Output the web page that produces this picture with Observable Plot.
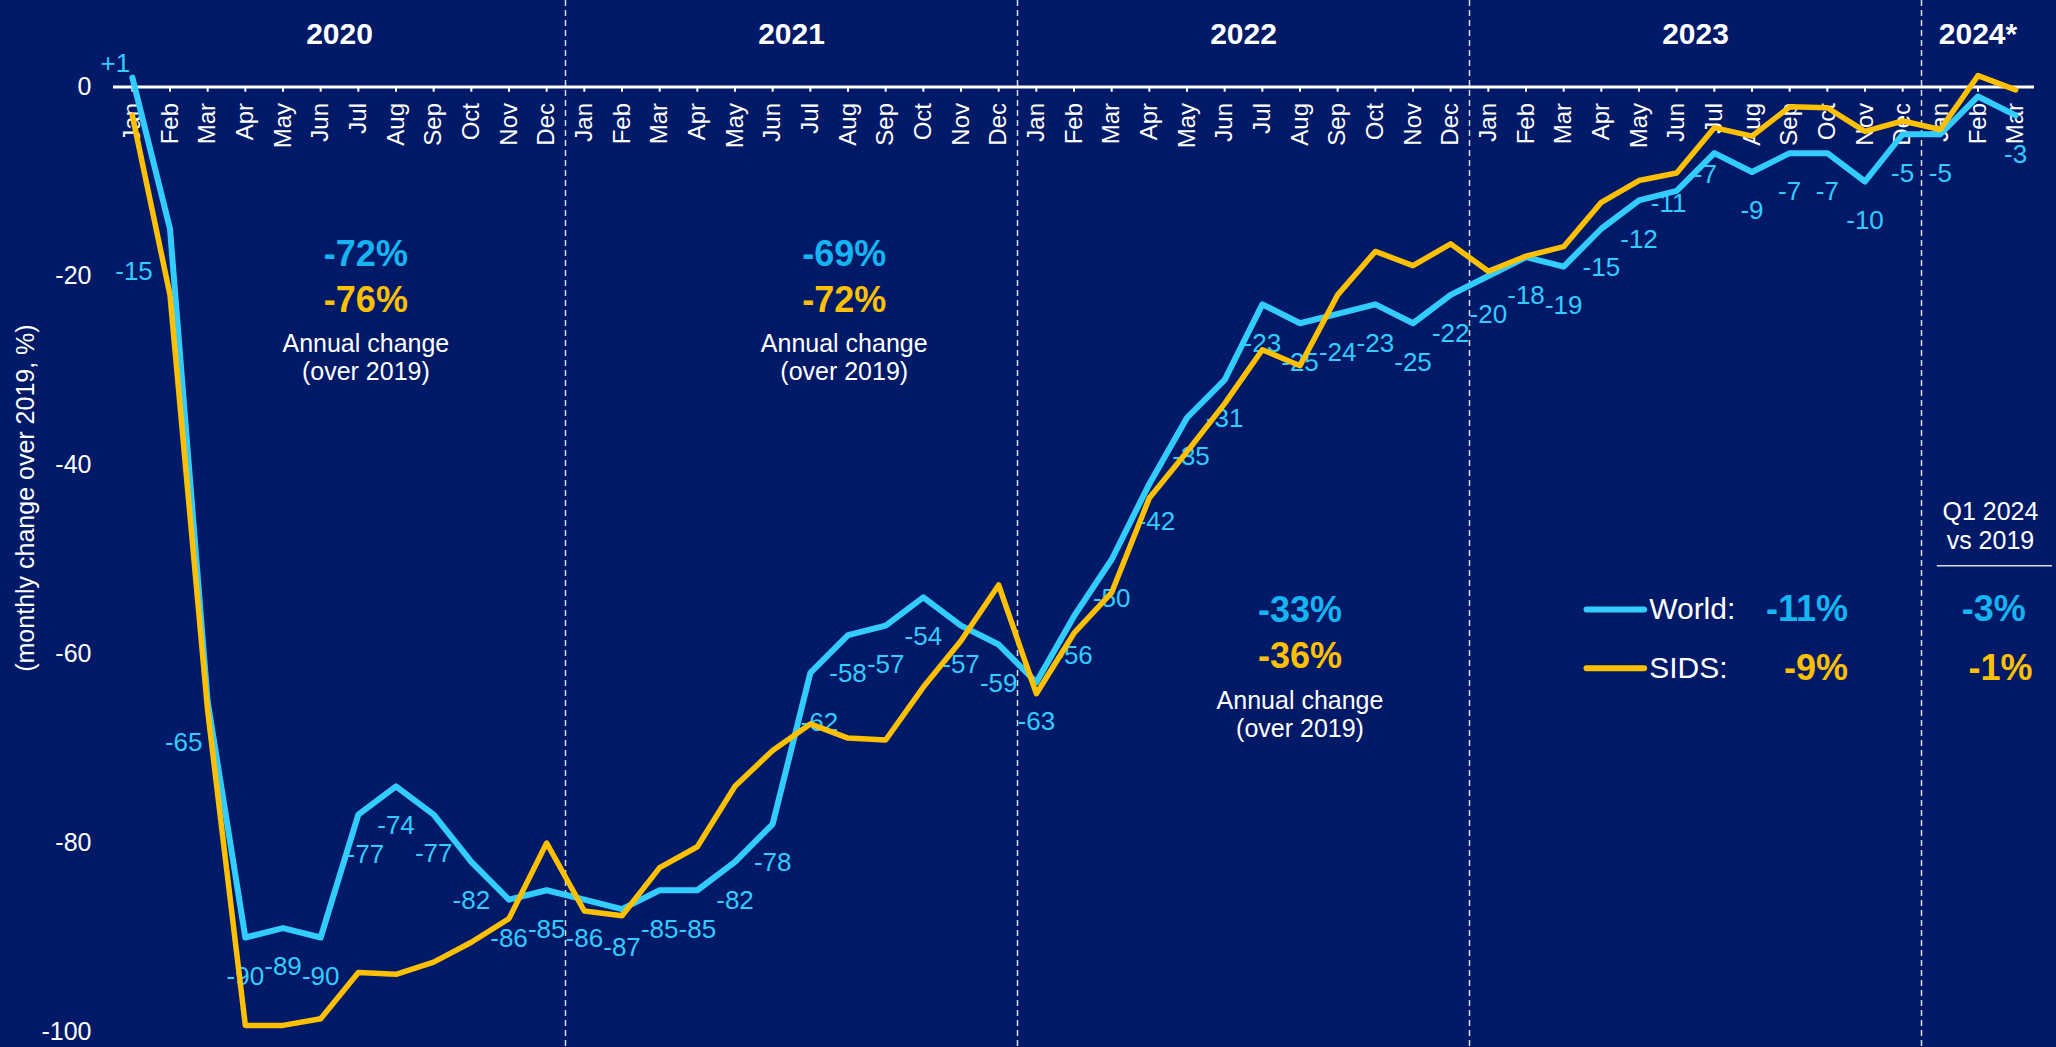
<!DOCTYPE html>
<html>
<head>
<meta charset="utf-8">
<script src="https://cdn.jsdelivr.net/npm/d3@7"></script>
<script src="https://cdn.jsdelivr.net/npm/@observablehq/plot@0.6"></script>
<style>
  html, body { margin: 0; padding: 0; background: #001a68; overflow: hidden; }
  #chart svg { display: block; }
</style>
</head>
<body>
<div id="chart"></div>
<script>
// ---------- DATA ----------
const months = [
  "Jan","Feb","Mar","Apr","May","Jun","Jul","Aug","Sep","Oct","Nov","Dec",
  "Jan","Feb","Mar","Apr","May","Jun","Jul","Aug","Sep","Oct","Nov","Dec",
  "Jan","Feb","Mar","Apr","May","Jun","Jul","Aug","Sep","Oct","Nov","Dec",
  "Jan","Feb","Mar","Apr","May","Jun","Jul","Aug","Sep","Oct","Nov","Dec",
  "Jan","Feb","Mar"
];
const years = ["2020", "2021", "2022", "2023", "2024*"];
const monthsPerYear = [12, 12, 12, 12, 3];

const world = [
  1, -15, -65, -90, -89, -90, -77, -74, -77, -82, -86, -85,
  -86, -87, -85, -85, -82, -78, -62, -58, -57, -54, -57, -59,
  -63, -56, -50, -42, -35, -31, -23, -25, -24, -23, -25, -22,
  -20, -18, -19, -15, -12, -11, -7, -9, -7, -7, -10, -5,
  -5, -1, -3
];
const worldLabels = [
  "+1","-15","-65","-90","-89","-90","-77","-74","-77","-82","-86","-85",
  "-86","-87","-85","-85","-82","-78","-62","-58","-57","-54","-57","-59",
  "-63","-56","-50","-42","-35","-31","-23","-25","-24","-23","-25","-22",
  "-20","-18","-19","-15","-12","-11","-7","-9","-7","-7","-10","-5",
  "-5", null, "-3"
];
const sids = [
  -3, -22, -66, -99.3, -99.3, -98.6, -93.7, -93.9, -92.6, -90.5, -88, -80,
  -87.2, -87.7, -82.6, -80.4, -74, -70.2, -67.4, -68.9, -69.1, -63.5, -58.6, -52.7,
  -64.2, -57.8, -53.5, -43.5, -38.6, -33.5, -27.8, -29.5, -22, -17.4, -18.9, -16.6,
  -19.5, -17.9, -16.9, -12.2, -9.9, -9.1, -4.3, -5.2, -2.1, -2.2, -4.7, -3.6,
  -4.5, 1.2, -0.3
];
const yTicks = [0, -20, -40, -60, -80, -100];
const yTitle = "(monthly change over 2019, %)";

// annual-change annotations (2020, 2021, 2022)
const annualWorld = ["-72%", "-69%", "-33%"];
const annualSids  = ["-76%", "-72%", "-36%"];
const annualCaption1 = "Annual change";
const annualCaption2 = "(over 2019)";

// legend
const seriesNames = ["World:", "SIDS:"];
const summary2023 = ["-11%", "-9%"];
const summaryQ1 = ["-3%", "-1%"];
const q1Header = ["Q1 2024", "vs 2019"];

// ---------- STYLE / LAYOUT ----------
const BG = "#001a68";
const BLUE = "#33ccff";
const PCT_BLUE = "#16b4f2";
const GOLD = "#ffc000";
const FONT = "'Liberation Sans', Arial, Helvetica, sans-serif";

const W = 2056, H = 1047;

const idx = d3.range(months.length);
const worldData = idx.map(i => ({i, v: world[i], label: worldLabels[i]}));
const sidsData = idx.map(i => ({i, v: sids[i]}));

// year spans
let start = 0;
const yearSpans = years.map((y, k) => {
  const s = start, e = start + monthsPerYear[k] - 1;
  start += monthsPerYear[k];
  return {year: y, s, e, mid: (s + e) / 2};
});
const dividers = yearSpans.slice(0, -1).map(d => d.e + 0.5);

// annotation anchors (month index, value)
const annotAnchors = [[6.2, -17.7], [18.9, -17.7], [31.0, -55.4]];
const annot = annotAnchors.map(([x, y], k) => ({x, y, w: annualWorld[k], s: annualSids[k]}));

// label offsets (px): default below the point
const defaultShift = [0, 39];
const labelShift = {0: [-17, -14], 1: [-36, 43], 2: [-24, 41], 6: [7, 40], 18: [9, 50], 27: [7, 38], 28: [4, 39], 41: [-8, 13], 42: [-9, 22]};

const labelMarks = worldData.filter(d => d.label != null).map(d => {
  const [dx, dy] = labelShift[d.i] || defaultShift;
  return Plot.text([d], {x: "i", y: "v", text: "label", dx, dy, fill: BLUE, fontSize: 26});
});

// legend anchors (month index, value)
const legendRowsY = [-55.3, -61.5];
const legendSwatchX = [38.62, 40.15];
const legendNameX = 40.27;
const legendPctEndX = 45.55;
const legendQ1X = [49.42, 49.6];
const q1HeaderX = 49.33;
const q1HeaderY = [-45.0, -48.0];
const q1RuleY = -50.65;
const q1RuleX = [47.92, 50.98];
const yTitleAt = -43.5;

const legendRows = seriesNames.map((n, k) => ({
  name: n, y: legendRowsY[k], a: summary2023[k], b: summaryQ1[k], qx: legendQ1X[k],
  color: k === 0 ? BLUE : GOLD, pc: k === 0 ? PCT_BLUE : GOLD
}));

const chart = Plot.plot({
  width: W,
  height: H,
  marginTop: 86.5,
  marginBottom: 15.5,
  marginLeft: 113,
  marginRight: 22,
  style: `background:${BG};color:white;font-family:${FONT};overflow:visible;`,
  x: {type: "linear", domain: [-0.5, 50.5], axis: null},
  y: {domain: [-100, 0]},
  marks: [
    Plot.axisY({ticks: yTicks, tickSize: 0, tickPadding: 22, tickFormat: d => String(d), fontSize: 25, label: null}),
    Plot.text([yTitle], {y: () => yTitleAt, frameAnchor: "left", textAnchor: "middle", rotate: -90, dx: -88, fontSize: 25, fill: "white"}),
    // year dividers
    Plot.ruleX(dividers, {x: d => d, stroke: "white", strokeOpacity: 0.85, strokeWidth: 1.5, strokeDasharray: "6,4", insetTop: -86.5, insetBottom: -16}),
    // year labels
    Plot.text(yearSpans, {x: "mid", text: "year", frameAnchor: "top", dy: -64.5, fontSize: 30, fontWeight: "bold", fill: "white"}),
    // month labels
    Plot.text(idx, {x: d => d, y: 0, text: d => months[d], rotate: -90, textAnchor: "end", dy: 16, fontSize: 24, fill: "white"}),
    // annotations
    Plot.text(annot, {x: "x", y: "y", text: "w", fill: PCT_BLUE, fontSize: 36, fontWeight: "bold"}),
    Plot.text(annot, {x: "x", y: "y", text: "s", dy: 46, fill: GOLD, fontSize: 36, fontWeight: "bold"}),
    Plot.text(annot, {x: "x", y: "y", text: () => annualCaption1, dy: 90, fill: "white", fontSize: 25}),
    Plot.text(annot, {x: "x", y: "y", text: () => annualCaption2, dy: 118, fill: "white", fontSize: 25}),
    // legend
    Plot.ruleY(legendRows, {y: "y", x1: () => legendSwatchX[0], x2: () => legendSwatchX[1], stroke: "color", strokeWidth: 6, strokeLinecap: "round"}),
    Plot.text(legendRows, {x: () => legendNameX, y: "y", text: "name", textAnchor: "start", fill: "white", fontSize: 30}),
    Plot.text(legendRows, {x: () => legendPctEndX, y: "y", text: "a", textAnchor: "end", fill: "pc", fontSize: 36, fontWeight: "bold"}),
    Plot.text(legendRows, {x: "qx", y: "y", text: "b", fill: "pc", fontSize: 36, fontWeight: "bold"}),
    Plot.text(q1Header, {x: () => q1HeaderX, y: (d, k) => q1HeaderY[k], text: d => d, fill: "white", fontSize: 25}),
    Plot.ruleY([q1RuleY], {x1: q1RuleX[0], x2: q1RuleX[1], stroke: "white", strokeOpacity: 0.85, strokeWidth: 1.5}),
    // data labels (under lines)
    ...labelMarks,
    // zero axis and ticks
    Plot.ruleY([0], {stroke: "white", strokeWidth: 3}),
    Plot.ruleX(idx, {x: d => d, y1: 0, y2: -0.55, stroke: "white", strokeWidth: 2}),
    // series
    Plot.line(worldData, {x: "i", y: "v", stroke: BLUE, strokeWidth: 6}),
    Plot.line(sidsData, {x: "i", y: "v", stroke: GOLD, strokeWidth: 5.5})
  ]
});

document.getElementById("chart").appendChild(chart);
</script>
</body>
</html>
